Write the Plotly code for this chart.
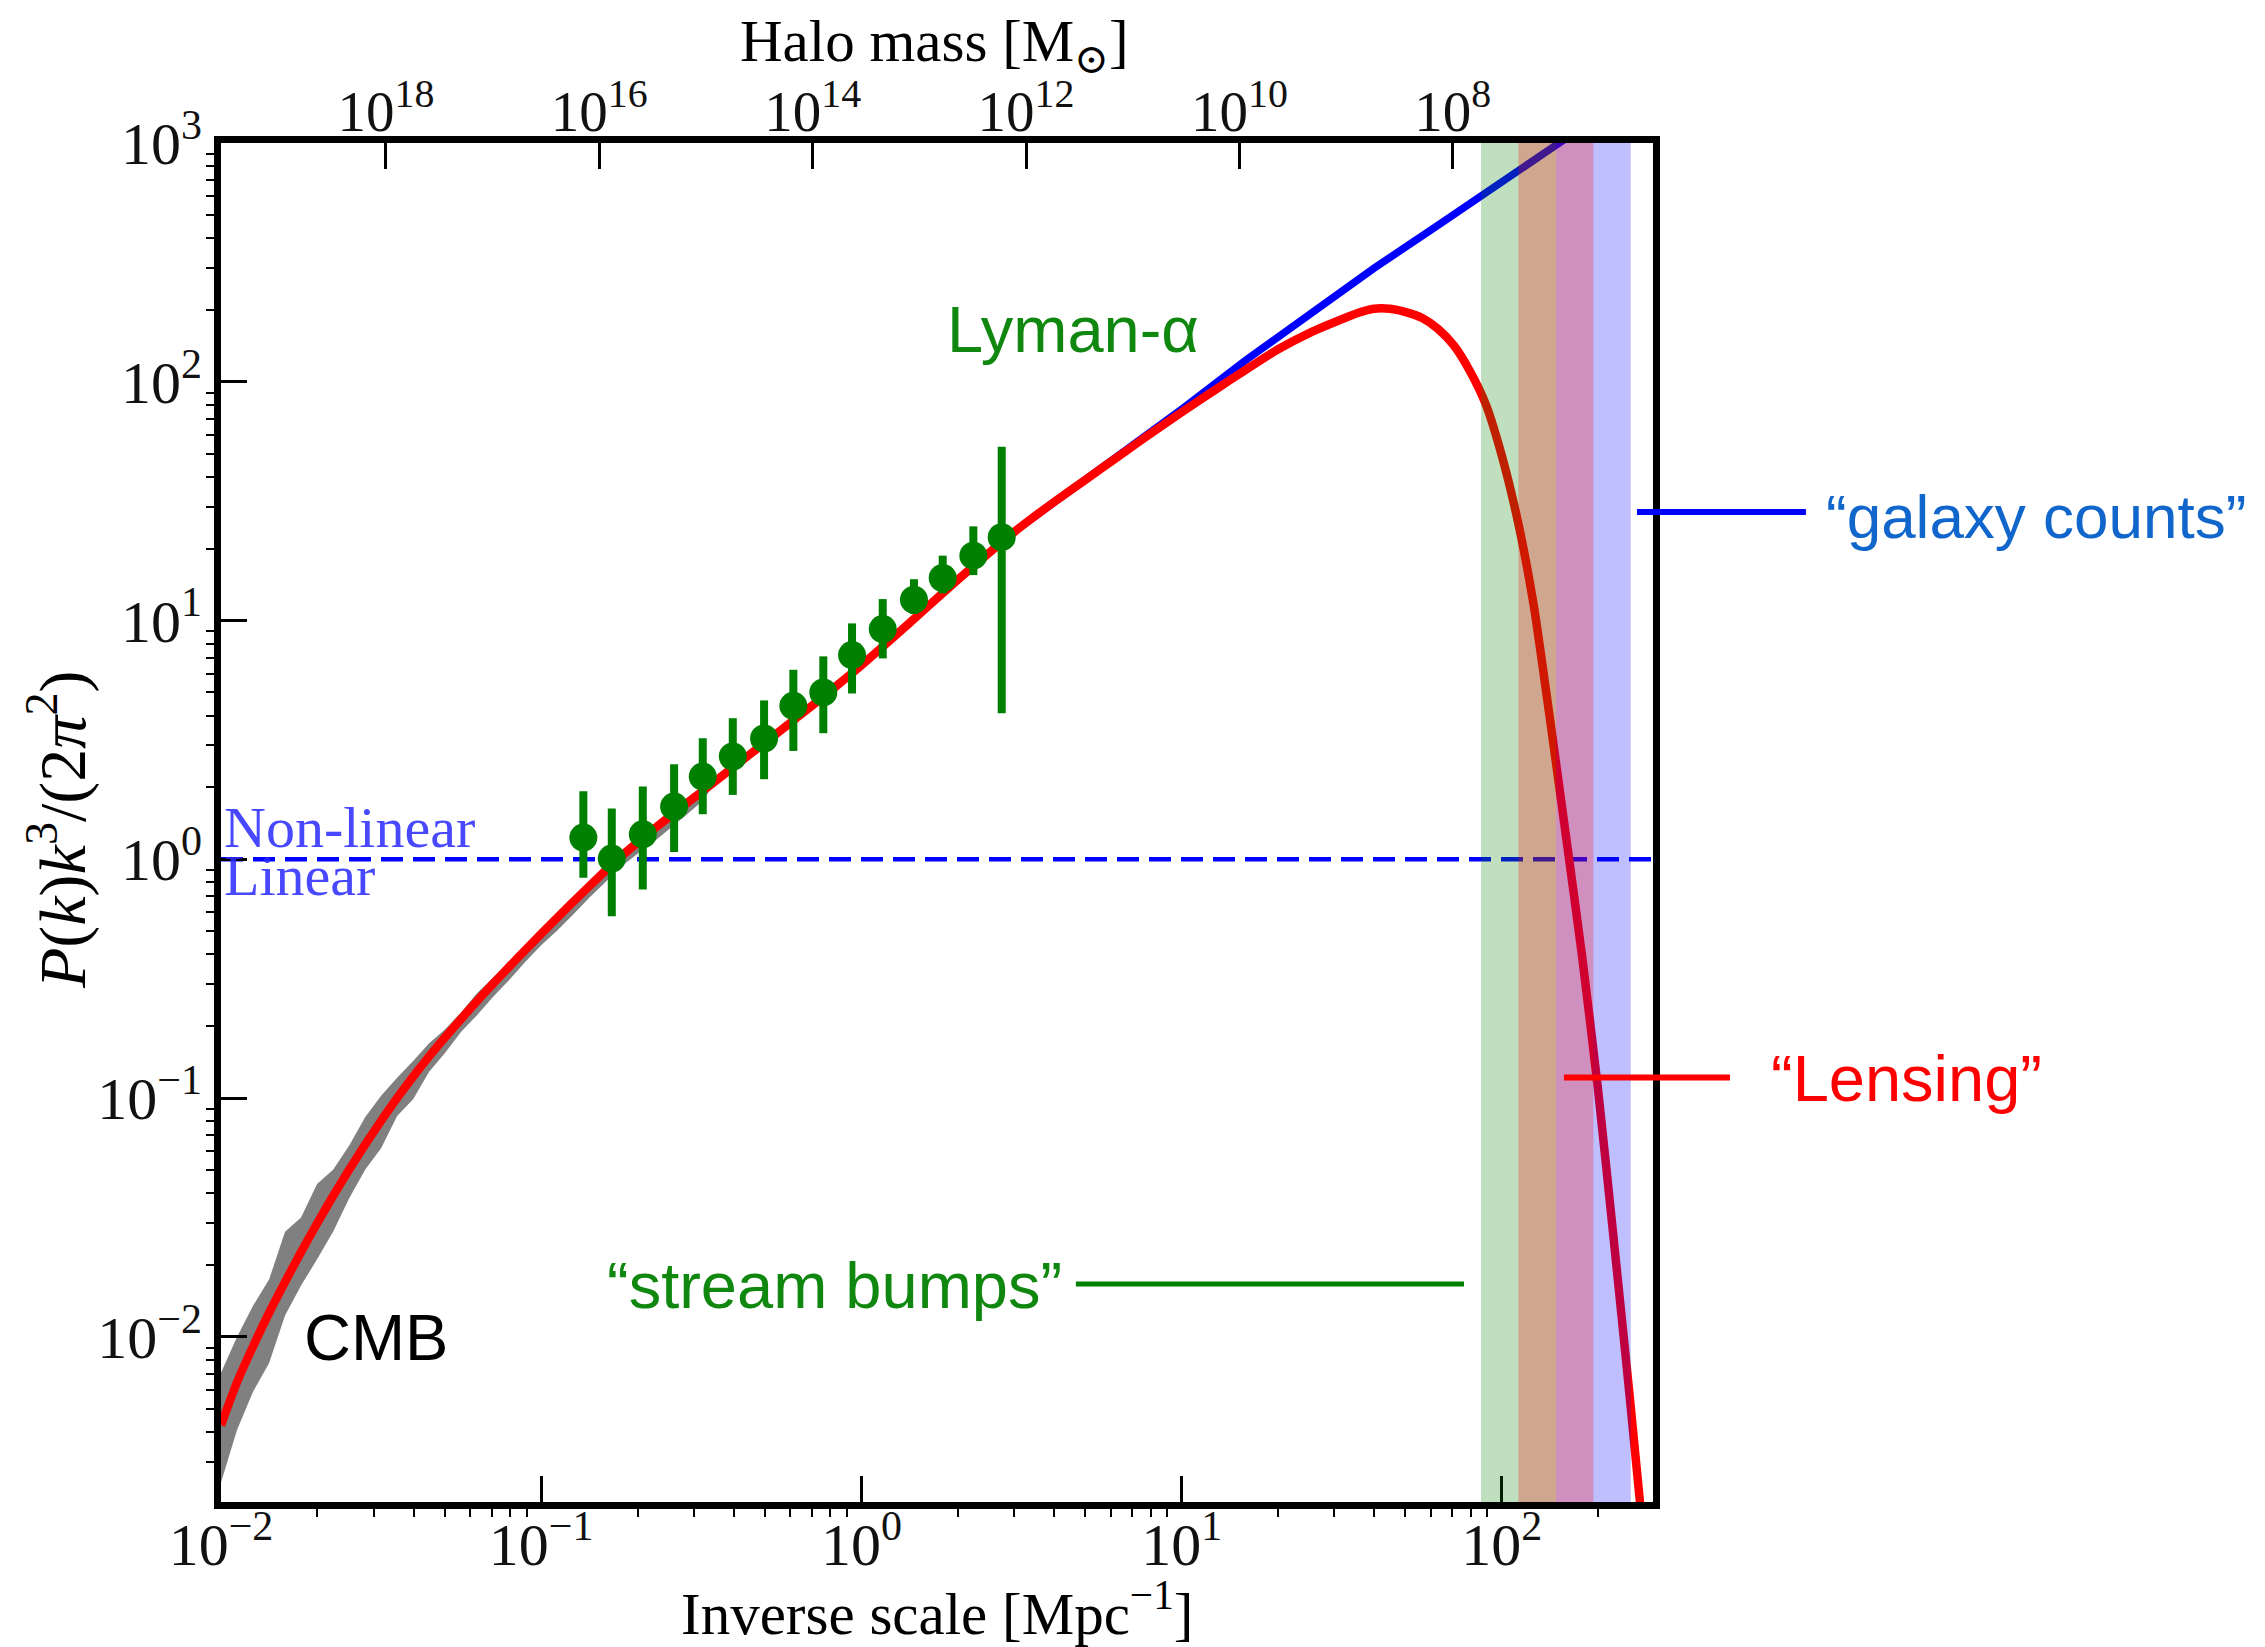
import numpy as np
import plotly.graph_objects as go

# ---------------- data ----------------
# non-linear ("red") spectrum, log10 k [1/Mpc] and log10 P k^3/(2 pi^2)
red_logk = [-2.00, -1.95, -1.90, -1.85, -1.80, -1.75, -1.70, -1.65, -1.60, -1.55,
            -1.50, -1.45, -1.40, -1.35, -1.30, -1.25, -1.20, -1.15, -1.10, -1.05,
            -1.00, -0.95, -0.90, -0.85, -0.80, -0.75, -0.70, -0.65, -0.60, -0.55,
            -0.50, -0.45, -0.40, -0.35, -0.30, -0.25, -0.20, -0.15, -0.10, -0.05,
            0.00, 0.10, 0.20, 0.30, 0.40, 0.50, 0.60, 0.70, 0.80, 0.90,
            1.00, 1.10, 1.20, 1.30, 1.40, 1.50, 1.55, 1.60, 1.65, 1.70, 1.75,
            1.80, 1.85, 1.90, 1.95, 2.00, 2.05, 2.10, 2.15, 2.20, 2.25,
            2.30, 2.35, 2.40, 2.45]
red_logP = [-2.37, -2.19, -2.04, -1.90, -1.77, -1.645, -1.525, -1.41, -1.30, -1.195,
            -1.095, -1.00, -0.91, -0.825, -0.745, -0.668, -0.593, -0.52, -0.45, -0.38,
            -0.312, -0.245, -0.178, -0.113, -0.048, 0.013, 0.07, 0.125, 0.178, 0.23,
            0.282, 0.334, 0.386, 0.438, 0.49, 0.542, 0.595, 0.648, 0.702, 0.757,
            0.813, 0.93, 1.05, 1.17, 1.285, 1.395, 1.495, 1.59, 1.685, 1.78,
            1.872, 1.962, 2.05, 2.135, 2.205, 2.262, 2.288, 2.306, 2.306, 2.292, 2.268,
            2.222, 2.152, 2.045, 1.905, 1.69, 1.415, 1.06, 0.59, 0.10, -0.40,
            -0.96, -1.60, -2.26, -2.95]

# linear ("blue") spectrum
blue_logk = [0.5, 0.8, 1.0, 1.2, 1.4, 1.6, 1.8, 2.0, 2.2, 2.3]
blue_logP = [1.395, 1.685, 1.885, 2.09, 2.285, 2.475, 2.655, 2.835, 3.015, 3.11]

# CMB band (upper / lower edge)
cmb_logk = [-2.00, -1.95, -1.90, -1.85, -1.80, -1.75, -1.70, -1.65, -1.60, -1.55,
            -1.50, -1.45, -1.40, -1.35, -1.30, -1.25, -1.20, -1.15, -1.10, -1.05,
            -1.00, -0.95, -0.90, -0.85, -0.80, -0.75, -0.70, -0.65, -0.60, -0.55,
            -0.50, -0.47]
cmb_hi_logP = [-2.15, -2.00, -1.87, -1.76, -1.56, -1.50, -1.36, -1.30, -1.20, -1.08,
               -0.99, -0.915, -0.845, -0.77, -0.712, -0.64, -0.56, -0.497, -0.432, -0.358,
               -0.29, -0.223, -0.161, -0.101, -0.036, 0.025, 0.082, 0.137, 0.19, 0.242,
               0.289, 0.313]
cmb_lo_logP = [-2.61, -2.39, -2.23, -2.11, -1.91, -1.785, -1.675, -1.56, -1.42, -1.30,
               -1.21, -1.075, -1.005, -0.89, -0.81, -0.722, -0.652, -0.575, -0.505, -0.43,
               -0.36, -0.298, -0.231, -0.161, -0.096, -0.03, 0.022, 0.072, 0.125, 0.182,
               0.24, 0.293]

# Lyman-alpha points
lya_k = [0.1354, 0.1661, 0.2076, 0.2600, 0.3195, 0.3965, 0.4966, 0.6129, 0.7603, 0.9348,
         1.1655, 1.459, 1.794, 2.236, 2.742]
lya_P = [1.233, 1.007, 1.273, 1.663, 2.222, 2.696, 3.207, 4.395, 5.000, 7.17,
         9.21, 12.22, 15.07, 18.70, 22.35]
lya_hi = [1.93, 1.632, 2.018, 2.50, 3.215, 3.90, 4.63, 6.22, 7.08, 9.73,
          12.3, 14.9, 18.7, 24.8, 53.4]
lya_lo = [0.838, 0.578, 0.748, 1.074, 1.545, 1.861, 2.165, 2.845, 3.375, 4.95,
          6.94, 10.65, 13.0, 15.5, 4.09]

# probe bands in k
band_green = [86.1, 147.7]
band_red = [112.6, 193.1]
band_blue = [147.7, 252.7]

# ticks
x_tickvals = [1e-2, 1e-1, 1e0, 1e1, 1e2]
x_ticktext = ["10<sup>−2</sup>", "10<sup>−1</sup>", "10<sup>0</sup>", "10<sup>1</sup>", "10<sup>2</sup>"]
y_tickvals = [1e-2, 1e-1, 1e0, 1e1, 1e2, 1e3]
y_ticktext = ["10<sup>−2</sup>", "10<sup>−1</sup>", "10<sup>0</sup>", "10<sup>1</sup>", "10<sup>2</sup>", "10<sup>3</sup>"]
m_tickvals = [1e18, 1e16, 1e14, 1e12, 1e10, 1e8]
m_ticktext = ["10<sup>18</sup>", "10<sup>16</sup>", "10<sup>14</sup>", "10<sup>12</sup>", "10<sup>10</sup>", "10<sup>8</sup>"]

# ---------------- figure ----------------
SERIF = "Liberation Serif, DejaVu Serif, serif"
SANS = "Liberation Sans, Arial, sans-serif"
GREEN = "#008000"
ANN = 65

def tenpow(a):
    return [10 ** v for v in a]

fig = go.Figure()

# CMB band
fig.add_trace(go.Scatter(
    x=tenpow(cmb_logk) + tenpow(cmb_logk[::-1]),
    y=tenpow(cmb_hi_logP) + tenpow(cmb_lo_logP[::-1]),
    fill="toself", fillcolor="#808080", line=dict(width=0), mode="lines",
    hoverinfo="skip", showlegend=False))

# linear
fig.add_trace(go.Scatter(x=tenpow(blue_logk), y=tenpow(blue_logP), mode="lines",
                         line=dict(color="#0000ff", width=7.5), showlegend=False))
# non-linear
fig.add_trace(go.Scatter(x=tenpow(red_logk), y=tenpow(red_logP), mode="lines",
                         line=dict(color="#ff0000", width=8.5, shape="spline", smoothing=0.6),
                         showlegend=False))

# Lyman-alpha
lya_P_arr = np.array(lya_P)
fig.add_trace(go.Scatter(
    x=lya_k, y=lya_P, mode="markers",
    marker=dict(color=GREEN, size=28),
    error_y=dict(type="data", symmetric=False,
                 array=np.array(lya_hi) - lya_P_arr,
                 arrayminus=lya_P_arr - np.array(lya_lo),
                 thickness=8, width=0, color=GREEN),
    showlegend=False))

# empty trace to activate top axis
fig.add_trace(go.Scatter(x=[], y=[], xaxis="x2", yaxis="y", showlegend=False))

shapes = []
# non-linear / linear divider
shapes.append(dict(type="line", xref="paper", yref="y", x0=0, x1=1, y0=1, y1=1,
                   line=dict(color="#0000ff", width=4.5, dash="22px,10px"), layer="below"))
# probe bands
for rng, col in [(band_green, "#008000"), (band_blue, "#0000ff"), (band_red, "#ff0000")]:
    shapes.append(dict(type="rect", xref="x", yref="paper", x0=rng[0], x1=rng[1], y0=0, y1=1,
                       fillcolor=col, opacity=0.25, line=dict(width=0), layer="above"))
# annotation leader lines (paper coords)
shapes.append(dict(type="line", xref="paper", yref="paper", x0=0.9888, x1=1.1068,
                   y0=0.7285, y1=0.7285, line=dict(color="#0000ff", width=6)))
shapes.append(dict(type="line", xref="paper", yref="paper", x0=0.9378, x1=1.0538,
                   y0=0.3123, y1=0.3123, line=dict(color="#ff0000", width=6)))
shapes.append(dict(type="line", xref="paper", yref="paper", x0=0.597, x1=0.868,
                   y0=0.1604, y1=0.1604, line=dict(color=GREEN, width=5)))

annotations = [
    dict(text="Lyman-α", x=0.595, y=0.863, xref="paper", yref="paper", showarrow=False,
         font=dict(family=SANS, size=ANN, color="#108810"), xanchor="center", yanchor="middle"),
    dict(text="CMB", x=0.1082, y=0.1211, xref="paper", yref="paper", showarrow=False,
         font=dict(family=SANS, size=ANN, color="#000000"), xanchor="center", yanchor="middle"),
    dict(text="“stream bumps”", x=0.4284, y=0.159, xref="paper", yref="paper", showarrow=False,
         font=dict(family=SANS, size=ANN, color="#108810"), xanchor="center", yanchor="middle"),
    dict(text="“galaxy counts”", x=1.2675, y=0.7255, xref="paper", yref="paper", showarrow=False,
         font=dict(family=SANS, size=62, color="#1166cc"), xanchor="center", yanchor="middle"),
    dict(text="“Lensing”", x=1.1767, y=0.3113, xref="paper", yref="paper", showarrow=False,
         font=dict(family=SANS, size=ANN, color="#ff0000"), xanchor="center", yanchor="middle"),
    dict(text="Non-linear", x=0.001, y=0.4965, xref="paper", yref="paper", showarrow=False,
         font=dict(family=SERIF, size=58, color="rgba(40,40,255,0.85)"), xanchor="left", yanchor="middle"),
    dict(text="Linear", x=0.001, y=0.461, xref="paper", yref="paper", showarrow=False,
         font=dict(family=SERIF, size=58, color="rgba(40,40,255,0.85)"), xanchor="left", yanchor="middle"),
    # axis titles
    dict(text="Inverse scale [Mpc<sup>−1</sup>]", x=0.5, y=-0.079, xref="paper", yref="paper",
         showarrow=False, font=dict(family=SERIF, size=59, color="#000"), xanchor="center", yanchor="middle"),
    dict(text="Halo mass [M<sub>⊙</sub>]", x=0.498, y=1.072, xref="paper", yref="paper",
         showarrow=False, font=dict(family=SERIF, size=59, color="#000"), xanchor="center", yanchor="middle"),
    dict(text="<i>P</i>(<i>k</i>)<i>k</i><sup>3</sup>/(2<i>π</i><sup>2</sup>)", x=-0.1138, y=0.4945,
         xref="paper", yref="paper", textangle=-90, showarrow=False,
         font=dict(family=SERIF, size=66, color="#000"), xanchor="center", yanchor="middle"),
]

x_minor = [m * 10.0 ** n for n in range(-2, 3) for m in range(2, 10) if m * 10.0 ** n < 296]
y_minor = [m * 10.0 ** n for n in range(-3, 3) for m in range(2, 10) if 0.0021 < m * 10.0 ** n < 1000]

TICKFONT = dict(family=SERIF, size=60, color="#111")

# page body has an 8px default margin: shrink the figure and margins to compensate
fig.update_layout(
    width=2257, height=1639, autosize=False,
    margin=dict(l=213, r=612, t=135, b=145),
    paper_bgcolor="white", plot_bgcolor="white",
    shapes=shapes, annotations=annotations, showlegend=False,
    xaxis=dict(type="log", range=[-2, 2.472], tickvals=x_tickvals, ticktext=x_ticktext,
               ticks="inside", ticklen=26, tickwidth=3, tickcolor="black",
               showline=True, linewidth=7, linecolor="black", mirror=True,
               showgrid=False, zeroline=False, tickfont=TICKFONT, ticklabelstandoff=-16,
               minor=dict(tickvals=x_minor, ticks="outside", ticklen=8, tickwidth=2,
                          tickcolor="black", showgrid=False)),
    xaxis2=dict(type="log", range=[19.546, 6.123], overlaying="x", side="top", anchor="y",
                tickvals=m_tickvals, ticktext=m_ticktext,
                ticks="inside", ticklen=26, tickwidth=3, tickcolor="black",
                showline=False, showgrid=False, zeroline=False,
                tickfont=dict(family=SERIF, size=57, color="#111")),
    yaxis=dict(type="log", range=[-2.6915, 3.0], tickvals=y_tickvals, ticktext=y_ticktext,
               ticks="inside", ticklen=26, tickwidth=3, tickcolor="black",
               showline=True, linewidth=7, linecolor="black", mirror=True,
               showgrid=False, zeroline=False, tickfont=TICKFONT,
               minor=dict(tickvals=y_minor, ticks="outside", ticklen=8, tickwidth=2,
                          tickcolor="black", showgrid=False)),
)

fig.write_html("out.html")
